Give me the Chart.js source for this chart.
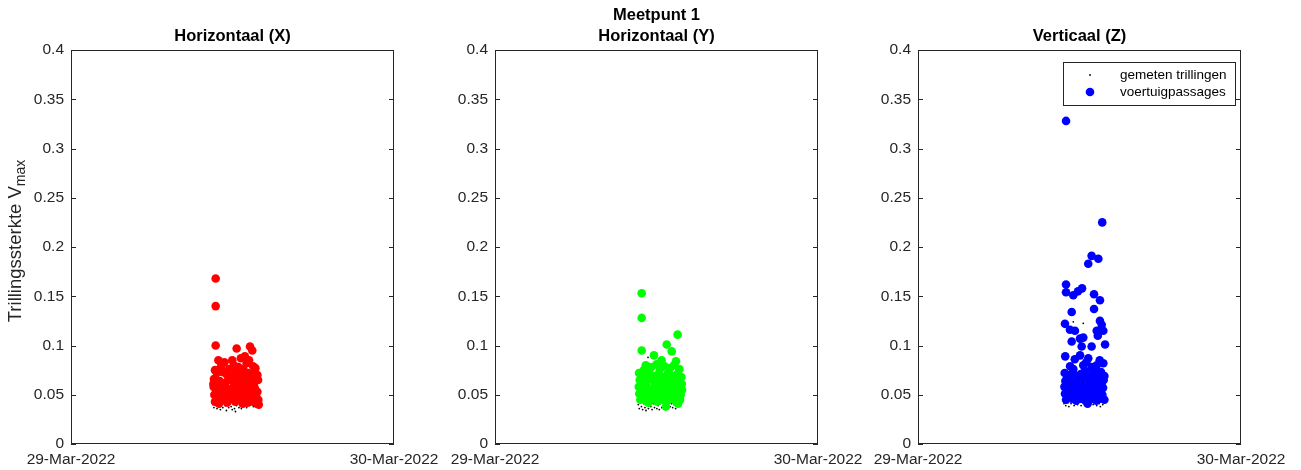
<!DOCTYPE html>
<html>
<head>
<meta charset="utf-8">
<title>Meetpunt 1</title>
<script src="https://cdn.jsdelivr.net/npm/chart.js@4.4.1/dist/chart.umd.min.js"></script>
<style>
body { margin:0; background:#fff; width:1301px; height:470px; position:relative; overflow:hidden; }
canvas { position:absolute; top:0; }
</style>
</head>
<body>
<canvas id="cX" style="left:0px" width="446" height="470"></canvas>
<canvas id="cY" style="left:435px" width="435" height="470"></canvas>
<canvas id="cZ" style="left:858px" width="443" height="470"></canvas>
<script>
// hours after 29-Mar-2022 00:00, value = Vmax
const dateTicks = ['29-Mar-2022', '30-Mar-2022'];
const tickHours = [0, 24];
const titles = ['Horizontaal (X)', ['Meetpunt 1', 'Horizontaal (Y)'], 'Verticaal (Z)'];
const yLabelText = ['Trillingssterkte V', 'max'];
const legendLabels = ['gemeten trillingen', 'voertuigpassages'];

const passX = [
  [10.75,0.168],[10.75,0.140],[10.75,0.100],[12.31,0.097],[13.30,0.099],[13.47,0.095],
  [10.95,0.085],[11.98,0.085],[12.62,0.087],[12.92,0.089],[13.23,0.085],[13.53,0.079],[11.40,0.083],[12.10,0.080],
  [13.05,0.082],[12.45,0.078],[11.15,0.079],[13.70,0.077],[11.75,0.076],[12.80,0.076],[10.70,0.075],
  [10.85,0.072],[11.30,0.073],[11.60,0.070],[12.00,0.068],[12.25,0.074],[12.55,0.071],[12.85,0.069],[13.15,0.072],
  [13.40,0.068],[13.65,0.073],[13.85,0.070],[10.62,0.066],[11.05,0.064],[11.45,0.062],[11.85,0.065],[12.15,0.061],
  [12.40,0.066],[12.70,0.063],[13.00,0.060],[13.30,0.064],[13.60,0.062],[13.90,0.065],[10.58,0.061],[11.70,0.067],[12.95,0.066],
  [10.60,0.058],[10.80,0.055],[11.00,0.057],[11.20,0.054],[11.40,0.059],[11.55,0.052],[11.75,0.056],[11.95,0.053],
  [12.10,0.058],[12.30,0.055],[12.50,0.057],[12.65,0.052],[12.85,0.056],[13.05,0.054],[13.20,0.058],[13.45,0.055],
  [13.65,0.057],[13.85,0.053],[10.65,0.050],[10.90,0.047],[11.10,0.049],[11.30,0.046],[11.50,0.048],[11.70,0.045],
  [11.90,0.049],[12.05,0.046],[12.25,0.050],[12.45,0.047],[12.60,0.045],[12.80,0.049],[13.00,0.047],[13.15,0.044],
  [13.35,0.048],[13.55,0.046],[13.75,0.049],[13.92,0.045],[10.70,0.043],[11.00,0.041],[11.60,0.042],[12.20,0.043],
  [12.75,0.041],[13.10,0.042],[13.50,0.043],[13.80,0.041],[13.95,0.040]
];
const measX = [
  [10.55,0.040],[10.62,0.037],[10.70,0.044],[10.78,0.039],[10.85,0.036],[10.93,0.042],[11.02,0.038],[11.10,0.035],
  [11.20,0.041],[11.28,0.037],[11.37,0.044],[11.45,0.039],[11.55,0.034],[11.63,0.040],[11.72,0.037],[11.80,0.043],
  [11.90,0.038],[11.98,0.035],[12.05,0.041],[12.15,0.036],[12.22,0.033],[12.30,0.039],[12.40,0.042],[12.48,0.037],
  [12.57,0.040],[12.66,0.036],[12.75,0.043],[12.85,0.038],[12.95,0.041],[13.05,0.037],[13.15,0.040],[13.28,0.039],
  [13.40,0.042],[13.55,0.038],[13.70,0.041],[13.85,0.039],[10.75,0.047],[11.50,0.046],[12.10,0.048],[12.60,0.045]
];

const passY = [
  [10.90,0.153],[10.90,0.128],[13.57,0.111],[12.76,0.101],[10.90,0.095],[13.13,0.094],[11.81,0.090],[12.38,0.085],[13.45,0.084],
  [11.20,0.080],[11.60,0.078],[12.00,0.081],[12.60,0.079],[13.00,0.077],[13.30,0.080],[13.70,0.076],[11.05,0.075],[12.25,0.076],
  [10.70,0.072],[11.10,0.070],[11.45,0.073],[11.80,0.069],[12.15,0.071],[12.50,0.068],[12.85,0.072],[13.20,0.069],[13.55,0.071],[13.85,0.068],
  [10.75,0.065],[11.15,0.063],[11.50,0.066],[11.85,0.062],[12.20,0.064],[12.55,0.061],[12.90,0.065],[13.25,0.062],[13.60,0.064],[13.88,0.061],
  [10.68,0.058],[10.95,0.056],[11.25,0.059],[11.55,0.055],[11.90,0.057],[12.10,0.054],[12.40,0.058],[12.70,0.055],[13.00,0.057],[13.35,0.054],
  [13.65,0.058],[13.90,0.055],[10.72,0.051],[11.00,0.049],[11.30,0.052],[11.65,0.048],[11.95,0.050],[12.30,0.047],[12.60,0.051],[12.95,0.049],
  [13.25,0.052],[13.50,0.048],[13.80,0.050],[10.80,0.045],[11.20,0.044],[11.70,0.046],[12.05,0.043],[12.45,0.045],[12.80,0.044],[13.10,0.046],
  [13.45,0.043],[13.75,0.045],[12.70,0.038],[11.40,0.042],[13.60,0.041]
];
const measY = [
  [10.65,0.040],[10.72,0.036],[10.80,0.043],[10.88,0.038],[10.97,0.035],[11.05,0.041],[11.14,0.037],[11.22,0.034],
  [11.31,0.040],[11.37,0.088],[11.40,0.036],[11.49,0.043],[11.58,0.038],[11.67,0.035],[11.76,0.041],[11.85,0.037],
  [11.94,0.042],[12.03,0.036],[12.12,0.039],[12.21,0.035],[12.30,0.041],[12.39,0.037],[12.48,0.043],[12.57,0.038],
  [12.66,0.035],[12.75,0.040],[12.84,0.036],[12.93,0.042],[13.02,0.038],[13.11,0.041],[13.20,0.037],[13.30,0.040],
  [13.42,0.036],[13.55,0.042],[13.68,0.039],[13.80,0.041],[11.10,0.047],[12.00,0.048],[12.90,0.046],[13.40,0.047]
];

const passZ = [
  [11.00,0.328],[13.69,0.225],[12.90,0.191],[13.40,0.188],[12.65,0.183],[11.00,0.162],[11.00,0.154],[11.54,0.151],
  [11.89,0.155],[12.19,0.158],[13.08,0.152],[13.52,0.146],[11.42,0.134],[13.08,0.137],[10.92,0.122],[13.52,0.125],
  [11.29,0.116],[11.66,0.115],[13.65,0.121],[13.28,0.115],[13.77,0.115],[13.36,0.110],[11.42,0.104],[12.04,0.107],
  [12.28,0.108],[13.90,0.101],[12.90,0.099],[12.16,0.099],[10.94,0.089],[12.04,0.090],[12.65,0.087],[13.77,0.082],
  [13.28,0.080],[12.28,0.080],[11.54,0.076],[11.05,0.066],
  [10.90,0.072],[11.20,0.070],[11.50,0.073],[11.80,0.069],[12.10,0.071],[12.40,0.074],[12.70,0.068],[13.00,0.072],
  [13.30,0.070],[13.60,0.073],[13.85,0.069],[10.95,0.064],[11.25,0.066],[11.55,0.062],[11.85,0.065],[12.15,0.063],
  [12.45,0.067],[12.75,0.061],[13.05,0.064],[13.35,0.066],[13.65,0.062],[13.80,0.065],[10.88,0.058],[11.15,0.056],
  [11.40,0.059],[11.70,0.055],[11.95,0.057],[12.25,0.054],[12.55,0.058],[12.85,0.056],[13.15,0.059],[13.45,0.055],
  [13.75,0.057],[10.92,0.051],[11.10,0.049],[11.35,0.052],[11.60,0.048],[11.90,0.050],[12.20,0.047],[12.50,0.051],
  [12.80,0.049],[13.10,0.052],[13.40,0.048],[13.70,0.050],[11.00,0.045],[11.45,0.046],[11.75,0.044],[12.05,0.046],
  [12.35,0.045],[12.65,0.043],[12.95,0.046],[13.25,0.044],[13.55,0.046],[13.85,0.045],[12.60,0.041],[11.30,0.079],
  [12.50,0.083],[13.20,0.076],[11.65,0.086],[12.90,0.078],[13.50,0.085]
];
const measZ = [
  [10.85,0.041],[10.92,0.044],[10.98,0.039],[11.06,0.046],[11.13,0.042],[11.21,0.038],[11.29,0.045],[11.37,0.041],
  [11.45,0.048],[11.54,0.124],[11.52,0.043],[11.60,0.039],[11.69,0.046],[11.77,0.042],[11.86,0.040],[11.94,0.047],
  [12.03,0.043],[12.12,0.039],[12.20,0.045],[12.28,0.1225],[12.29,0.041],[12.38,0.047],[12.47,0.043],[12.56,0.040],
  [12.65,0.046],[12.74,0.042],[12.83,0.048],[12.92,0.044],[13.01,0.040],[13.10,0.046],[13.19,0.042],[13.28,0.039],
  [13.37,0.045],[13.46,0.041],[13.55,0.038],[13.64,0.044],[13.73,0.040],[13.82,0.043],[11.10,0.080],[11.00,0.053],[13.20,0.050]
];

const FONT = '"Liberation Sans", Arial, Helvetica, sans-serif';
const AXCOL = '#262626';

function toPts(arr) {
  return arr.map(p => ({x: p[0], y: p[1]}));
}

// box + inward ticks, matlab style
const boxPlugin = {
  id: 'matlabBox',
  afterDraw(chart) {
    const ctx = chart.ctx, a = chart.chartArea, ys = chart.scales.y;
    ctx.save();
    ctx.strokeStyle = AXCOL;
    ctx.lineWidth = 1;
    ctx.strokeRect(a.left + 0.5, a.top + 0.5, a.width - 1, a.height - 1);
    ctx.beginPath();
    ys.ticks.forEach(t => {
      const y = Math.round(ys.getPixelForValue(t.value)) + 0.5;
      ctx.moveTo(a.left, y); ctx.lineTo(a.left + 5, y);
      ctx.moveTo(a.right, y); ctx.lineTo(a.right - 5, y);
    });
    ctx.stroke();
    ctx.restore();
  }
};

const yLabelPlugin = {
  id: 'yLabel',
  afterDraw(chart) {
    const ctx = chart.ctx, a = chart.chartArea;
    ctx.save();
    ctx.translate(16, (a.top + a.bottom) / 2 - 6);
    ctx.rotate(-Math.PI / 2);
    ctx.fillStyle = AXCOL;
    ctx.textBaseline = 'middle';
    ctx.textAlign = 'left';
    ctx.font = '18.5px ' + FONT;
    const w1 = ctx.measureText(yLabelText[0]).width;
    ctx.font = '14px ' + FONT;
    const w2 = ctx.measureText(yLabelText[1]).width;
    const x0 = -(w1 + w2) / 2;
    ctx.font = '18.5px ' + FONT;
    ctx.fillText(yLabelText[0], x0, 0);
    ctx.font = '14px ' + FONT;
    ctx.fillText(yLabelText[1], x0 + w1, 5);
    ctx.restore();
  }
};

const legendPlugin = {
  id: 'boxLegend',
  afterDraw(chart) {
    const ctx = chart.ctx, a = chart.chartArea;
    const w = 172, h = 43;
    const left = a.right - 6 - w, top = a.top + 12;
    ctx.save();
    ctx.fillStyle = '#fff';
    ctx.fillRect(left, top, w, h);
    ctx.strokeStyle = AXCOL;
    ctx.lineWidth = 1;
    ctx.strokeRect(left + 0.5, top + 0.5, w, h);
    const ds = chart.data.datasets;
    // black first, like the matlab legend
    const rows = [ds[1], ds[0]];
    rows.forEach((d, i) => {
      const cy = top + 13 + i * 17;
      ctx.fillStyle = d.backgroundColor;
      ctx.beginPath();
      ctx.arc(left + 27, cy, d.pointRadius, 0, Math.PI * 2);
      ctx.fill();
      ctx.fillStyle = '#000';
      ctx.font = '13.5px ' + FONT;
      ctx.textBaseline = 'middle';
      ctx.fillText(d.label, left + 57, cy);
    });
    ctx.restore();
  }
};

function makePanel(id, title, pass, meas, color, yWidth, rightPad, extra) {
  const single = !Array.isArray(title);
  return new Chart(document.getElementById(id), {
    type: 'scatter',
    data: {
      datasets: [{
        label: legendLabels[1],
        data: toPts(pass),
        backgroundColor: color,
        borderWidth: 0,
        pointRadius: 4.3,
        pointHoverRadius: 4.3,
        order: 1
      }, {
        label: legendLabels[0],
        data: toPts(meas),
        backgroundColor: '#000',
        borderWidth: 0,
        pointRadius: 0.9,
        pointHoverRadius: 0.9,
        order: 2
      }]
    },
    options: {
      responsive: false,
      animation: false,
      layout: { padding: { left: 0, right: rightPad, top: 0, bottom: 0 } },
      plugins: {
        legend: { display: false },
        tooltip: { enabled: false },
        title: {
          display: true,
          fullSize: false,
          text: title,
          color: '#000',
          font: { family: FONT, size: 16.5, weight: 'bold', lineHeight: '21px' },
          padding: single ? { top: 25.5, bottom: 3.5 } : { top: 5, bottom: 3 }
        }
      },
      scales: {
        x: {
          type: 'linear',
          min: 0,
          max: 24,
          grid: { display: false, drawTicks: false },
          border: { display: false },
          afterBuildTicks: s => { s.ticks = tickHours.map(v => ({ value: v })); },
          afterFit: s => { s.height = 26; },
          ticks: {
            autoSkip: false,
            maxRotation: 0,
            padding: 6,
            color: AXCOL,
            font: { family: FONT, size: 15.5 },
            callback: (v, i) => dateTicks[i]
          }
        },
        y: {
          min: 0,
          max: 0.4,
          grid: { display: false, drawTicks: false },
          border: { display: false },
          afterFit: s => { s.width = yWidth; },
          ticks: {
            stepSize: 0.05,
            padding: 7,
            color: AXCOL,
            font: { family: FONT, size: 15.5 },
            callback: v => String(+v.toFixed(2))
          }
        }
      }
    },
    plugins: [boxPlugin].concat(extra)
  });
}

window.onload = function() {
  makePanel('cX', titles[0], passX, measX, '#ff0000', 71, 52, [yLabelPlugin]);
  makePanel('cY', titles[1], passY, measY, '#00ff00', 60, 52, []);
  makePanel('cZ', titles[2], passZ, measZ, '#0000ff', 60, 60, [legendPlugin]);
};
</script>
</body>
</html>
